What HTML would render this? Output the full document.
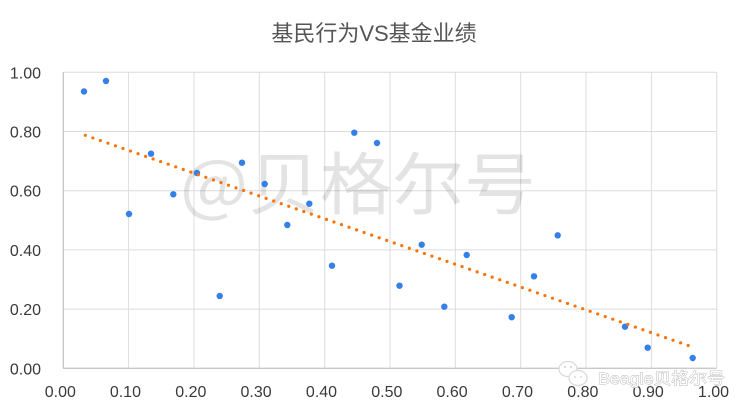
<!DOCTYPE html>
<html>
<head>
<meta charset="utf-8">
<style>
html,body{margin:0;padding:0;background:#fff;}
svg{display:block;}
</style>
</head>
<body>
<svg width="749" height="412" viewBox="0 0 749 412" xmlns="http://www.w3.org/2000/svg">
<rect width="749" height="412" fill="#fff"/>
<!-- title -->
<text x="374" y="41" text-anchor="middle" font-family="'Liberation Sans','Noto Sans CJK SC',sans-serif" font-size="22" fill="#555">基民行为VS基金业绩</text>

<!-- grid -->
<g stroke="#dcdcdc" stroke-width="1">
<line x1="63.3" y1="72.3" x2="716.7" y2="72.3"/>
<line x1="63.3" y1="131.5" x2="716.7" y2="131.5"/>
<line x1="63.3" y1="190.7" x2="716.7" y2="190.7"/>
<line x1="63.3" y1="249.9" x2="716.7" y2="249.9"/>
<line x1="63.3" y1="309.1" x2="716.7" y2="309.1"/>
<line x1="128.6" y1="72.3" x2="128.6" y2="368.3"/>
<line x1="194" y1="72.3" x2="194" y2="368.3"/>
<line x1="259.3" y1="72.3" x2="259.3" y2="368.3"/>
<line x1="324.7" y1="72.3" x2="324.7" y2="368.3"/>
<line x1="390" y1="72.3" x2="390" y2="368.3"/>
<line x1="455.3" y1="72.3" x2="455.3" y2="368.3"/>
<line x1="520.7" y1="72.3" x2="520.7" y2="368.3"/>
<line x1="586" y1="72.3" x2="586" y2="368.3"/>
<line x1="651.4" y1="72.3" x2="651.4" y2="368.3"/>
<line x1="716.7" y1="72.3" x2="716.7" y2="368.3"/>
</g>
<g stroke="#c9c9c9" stroke-width="1.4">
<line x1="63.3" y1="72" x2="63.3" y2="368.3"/>
<line x1="63" y1="368.3" x2="716.7" y2="368.3"/>
</g>

<!-- watermark -->
<text x="180" y="209" font-family="'Noto Sans CJK SC',sans-serif" font-size="68" fill="#000" fill-opacity="0.11" textLength="356" lengthAdjust="spacingAndGlyphs">@贝格尔号</text>

<!-- y labels -->
<g font-family="'Liberation Sans',sans-serif" font-size="16" fill="#3a3a3a" text-anchor="end">
<text x="41" y="78.3">1.00</text>
<text x="41" y="137.5">0.80</text>
<text x="41" y="196.7">0.60</text>
<text x="41" y="255.9">0.40</text>
<text x="41" y="315.1">0.20</text>
<text x="41" y="374.3">0.00</text>
</g>
<!-- x labels -->
<g font-family="'Liberation Sans',sans-serif" font-size="16" fill="#3a3a3a" text-anchor="middle">
<text x="60.3" y="397">0.00</text>
<text x="125.4" y="397">0.10</text>
<text x="190.8" y="397">0.20</text>
<text x="256.1" y="397">0.30</text>
<text x="321.5" y="397">0.40</text>
<text x="386.8" y="397">0.50</text>
<text x="452.1" y="397">0.60</text>
<text x="517.5" y="397">0.70</text>
<text x="582.8" y="397">0.80</text>
<text x="648.2" y="397">0.90</text>
<text x="713.5" y="397">1.00</text>
</g>

<!-- points -->
<g fill="#3580e8">
<circle cx="84" cy="91.5" r="3.2"/>
<circle cx="106" cy="81" r="3.2"/>
<circle cx="129" cy="214" r="3.2"/>
<circle cx="151" cy="153.7" r="3.2"/>
<circle cx="173.3" cy="194.3" r="3.2"/>
<circle cx="197" cy="173" r="3.2"/>
<circle cx="242" cy="162.7" r="3.2"/>
<circle cx="219.7" cy="296" r="3.2"/>
<circle cx="264.7" cy="184" r="3.2"/>
<circle cx="287.3" cy="225" r="3.2"/>
<circle cx="309.3" cy="203.7" r="3.2"/>
<circle cx="332" cy="265.7" r="3.2"/>
<circle cx="354.3" cy="132.7" r="3.2"/>
<circle cx="377" cy="143" r="3.2"/>
<circle cx="399.5" cy="285.7" r="3.2"/>
<circle cx="421.7" cy="244.7" r="3.2"/>
<circle cx="444.3" cy="306.7" r="3.2"/>
<circle cx="466.7" cy="255" r="3.2"/>
<circle cx="511.7" cy="317.2" r="3.2"/>
<circle cx="534" cy="276.3" r="3.2"/>
<circle cx="557.7" cy="235.3" r="3.2"/>
<circle cx="625" cy="326.7" r="3.2"/>
<circle cx="647.7" cy="347.7" r="3.2"/>
<circle cx="692.7" cy="358" r="3.2"/>
</g>

<!-- trendline -->
<line x1="85.3" y1="135.3" x2="691.7" y2="346.7" stroke="#f97306" stroke-width="3.2" stroke-linecap="round" stroke-dasharray="0 7.98"/>

<!-- bottom-right watermark -->
<g>
<ellipse cx="568" cy="369" rx="9" ry="7.5" fill="#fff" stroke="#d8d8d8" stroke-width="1.2"/>
<ellipse cx="578" cy="378" rx="9" ry="7.5" fill="#fff" stroke="#d8d8d8" stroke-width="1.2"/>
<circle cx="565" cy="367" r="1" fill="#d0d0d0"/>
<circle cx="571" cy="367" r="1" fill="#d0d0d0"/>
<circle cx="575" cy="377" r="0.9" fill="#d0d0d0"/>
<circle cx="581" cy="377" r="0.9" fill="#d0d0d0"/>
<text x="598" y="384" font-family="'Liberation Sans','Noto Sans CJK SC',sans-serif" font-size="16" fill="#fff" stroke="#b8b8b8" stroke-width="0.9" paint-order="stroke" textLength="127" lengthAdjust="spacingAndGlyphs">Beagle贝格尔号</text>
</g>
</svg>
</body>
</html>
